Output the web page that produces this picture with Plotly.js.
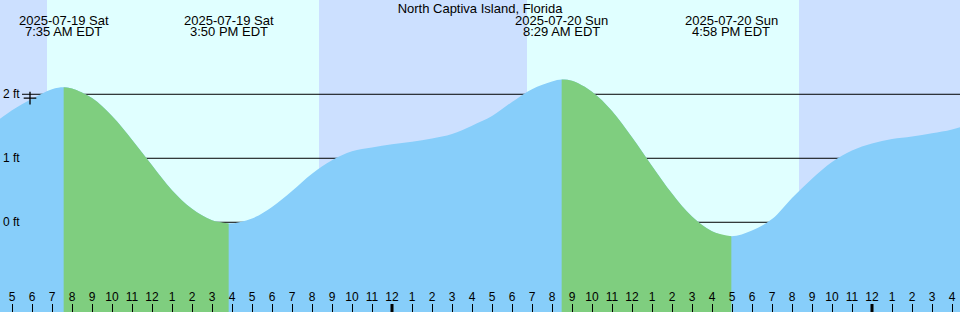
<!DOCTYPE html>
<html>
<head>
<meta charset="utf-8">
<script src="https://cdn.plot.ly/plotly-3.0.1.min.js"></script>
<style>html,body{margin:0;padding:0;background:#cce0ff;}#chart{width:960px;height:312px;}</style>
</head>
<body>
<div id="chart"></div>
<script>
// ---- data ----
const chartTitle = 'North Captiva Island, Florida';
const tideTimes = [
  '2025-07-19 04:00','2025-07-19 05:00','2025-07-19 06:00','2025-07-19 07:00','2025-07-19 07:35',
  '2025-07-19 08:00','2025-07-19 09:00','2025-07-19 10:00','2025-07-19 11:00','2025-07-19 12:00',
  '2025-07-19 13:00','2025-07-19 14:00','2025-07-19 15:00','2025-07-19 15:50','2025-07-19 17:00',
  '2025-07-19 18:00','2025-07-19 19:00','2025-07-19 20:00','2025-07-19 21:00','2025-07-19 22:00',
  '2025-07-19 23:00','2025-07-20 00:00','2025-07-20 01:00','2025-07-20 02:00','2025-07-20 03:00',
  '2025-07-20 04:00','2025-07-20 05:00','2025-07-20 06:00','2025-07-20 07:00','2025-07-20 08:00',
  '2025-07-20 08:29','2025-07-20 09:00','2025-07-20 10:00','2025-07-20 11:00','2025-07-20 12:00',
  '2025-07-20 13:00','2025-07-20 14:00','2025-07-20 15:00','2025-07-20 16:00','2025-07-20 16:58',
  '2025-07-20 18:00','2025-07-20 19:00','2025-07-20 20:00','2025-07-20 21:00','2025-07-20 22:00',
  '2025-07-20 23:00','2025-07-21 00:00','2025-07-21 01:00','2025-07-21 02:00','2025-07-21 03:00',
  '2025-07-21 04:00','2025-07-21 05:00'
];
const tideHeights = [
  1.52, 1.75, 1.93, 2.08, 2.11,
  2.09, 1.94, 1.66, 1.29, 0.89,
  0.50, 0.21, 0.03, -0.02, 0.06,
  0.24, 0.49, 0.76, 0.97, 1.11,
  1.17, 1.22, 1.26, 1.31, 1.38,
  1.51, 1.66, 1.88, 2.08, 2.20,
  2.23, 2.21, 2.04, 1.74, 1.33,
  0.88, 0.45, 0.09, -0.14, -0.22,
  -0.13, 0.05, 0.38, 0.68, 0.94,
  1.12, 1.23, 1.30, 1.34, 1.39,
  1.45, 1.55
];
const highTimes = ['2025-07-19 07:35', '2025-07-20 08:29'];
const lowTimes  = ['2025-07-19 15:50', '2025-07-20 16:58'];
const eventTimes = ['2025-07-19 07:35', '2025-07-19 15:50', '2025-07-20 08:29', '2025-07-20 16:58'];
const eventDates = ['2025-07-19 Sat', '2025-07-19 Sat', '2025-07-20 Sun', '2025-07-20 Sun'];
const eventClock = ['7:35 AM EDT', '3:50 PM EDT', '8:29 AM EDT', '4:58 PM EDT'];
const sunrises = ['2025-07-19 06:45', '2025-07-20 06:45'];
const sunsets  = ['2025-07-19 20:21', '2025-07-20 20:21'];
const midnights = ['2025-07-20 00:00', '2025-07-21 00:00'];
const levelLines = [0, 1, 2];
const levelLabels = ['0 ft', '1 ft', '2 ft'];
const markTime = ['2025-07-19 05:54'];
const markHeight = [1.94];
const xStart = '2025-07-19 04:24';
const xEnd = '2025-07-21 04:24';
const yMin = -1.402, yMax = 3.473;

// ---- styles ----
const nightColor = '#cce0ff';
const dayColor = '#e0ffff';
const blueFill = '#87cefa';
const greenFill = '#7fce7f';
const FONT = 'Liberation Sans, Arial, sans-serif';
const floorY = yMin - 1;

const traces = [];
traces.push({x: tideTimes, y: tideTimes.map(() => floorY), mode: 'lines', line: {width: 0, color: 'rgba(0,0,0,0)'}, hoverinfo: 'skip', showlegend: false});
traces.push({x: tideTimes, y: tideHeights, mode: 'lines', line: {width: 0, shape: 'spline', color: blueFill}, fill: 'tonexty', fillcolor: blueFill, hoverinfo: 'skip', showlegend: false});
for (let k = 0; k < highTimes.length; k++) {
  const gx = [], gy = [];
  tideTimes.forEach((t, i) => { if (t >= highTimes[k] && t <= lowTimes[k]) { gx.push(t); gy.push(tideHeights[i]); } });
  traces.push({x: gx, y: gx.map(() => floorY), mode: 'lines', line: {width: 0, color: 'rgba(0,0,0,0)'}, hoverinfo: 'skip', showlegend: false});
  traces.push({x: gx, y: gy, mode: 'lines', line: {width: 0, shape: 'spline', color: greenFill}, fill: 'tonexty', fillcolor: greenFill, hoverinfo: 'skip', showlegend: false});
}
traces.push({x: markTime, y: markHeight, mode: 'markers', marker: {symbol: 'cross-thin', size: 9, line: {color: '#000', width: 1.3}}, hoverinfo: 'skip', showlegend: false});

const shapes = [];
for (let k = 0; k < sunrises.length; k++) {
  shapes.push({type: 'rect', layer: 'below', xref: 'x', yref: 'paper', x0: sunrises[k], x1: sunsets[k], y0: 0, y1: 1, fillcolor: dayColor, line: {width: 0}});
}
levelLines.forEach(v => shapes.push({type: 'line', layer: 'below', xref: 'paper', yref: 'y', x0: 22/960, x1: 1, y0: v, y1: v, line: {color: '#000', width: 1}}));
midnights.forEach(m => shapes.push({type: 'line', layer: 'above', xref: 'x', yref: 'paper', x0: m, x1: m, y0: 0, y1: 8/312, line: {color: '#000', width: 3}}));

const annotations = [];
eventTimes.forEach((t, i) => {
  annotations.push({x: t, xref: 'x', yref: 'paper', y: 1 - 20/312, yanchor: 'middle', text: eventDates[i], showarrow: false, borderpad: 0, font: {family: FONT, size: 13, color: '#000'}});
  annotations.push({x: t, xref: 'x', yref: 'paper', y: 1 - 32/312, yanchor: 'middle', text: eventClock[i], showarrow: false, borderpad: 0, font: {family: FONT, size: 13, color: '#000'}});
});
levelLines.forEach((v, i) => {
  annotations.push({x: 0, xref: 'paper', xanchor: 'left', xshift: 2, y: v, yref: 'y', yanchor: 'middle', text: levelLabels[i], showarrow: false, borderpad: 0, font: {family: FONT, size: 12, color: '#000'}});
});

const layout = {
  width: 960, height: 312,
  margin: {l: 0, r: 0, t: 0, b: 0, pad: 0},
  paper_bgcolor: nightColor, plot_bgcolor: nightColor,
  showlegend: false,
  title: {text: chartTitle, x: 0.5, xanchor: 'center', y: 1 - 8/312, yanchor: 'middle', font: {family: FONT, size: 13, color: '#000'}},
  xaxis: {type: 'date', range: [xStart, xEnd], showgrid: false, zeroline: false, showline: false,
          ticks: 'inside', ticklen: 8, tickwidth: 1, tickcolor: '#000', dtick: 3600000, tick0: '2025-07-19 00:00',
          tickformat: '%-I', ticklabelposition: 'inside', tickfont: {family: FONT, size: 12, color: '#000'}},
  yaxis: {range: [yMin, yMax], showgrid: false, zeroline: false, showline: false, ticks: '', showticklabels: false},
  shapes: shapes,
  annotations: annotations
};

Plotly.newPlot('chart', traces, layout, {staticPlot: true, displayModeBar: false});
</script>
</body>
</html>
